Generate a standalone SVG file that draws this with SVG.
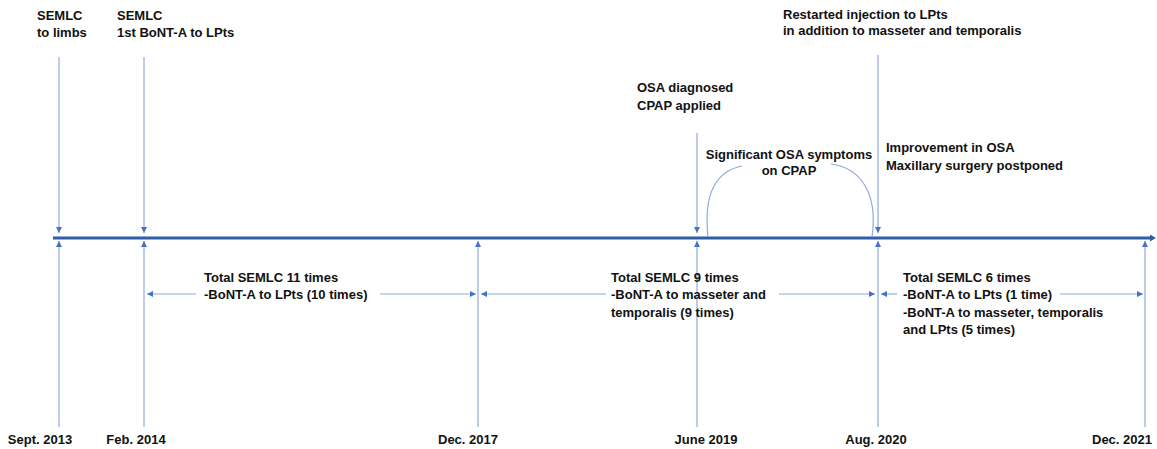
<svg xmlns="http://www.w3.org/2000/svg" width="1157" height="449" viewBox="0 0 1157 449">
  <style>
    text { font-family: "Liberation Sans", Arial, sans-serif; font-size: 13px; font-weight: bold; fill: #111; }
    .c { text-anchor: middle; }
    .thin { stroke: #8FAADC; stroke-width: 1.2; fill: none; }
    .arr { marker-end: url(#ah); }
    .both { marker-start: url(#ah); marker-end: url(#ah); }
    .main { stroke: #2F5DA8; stroke-width: 3; fill: none; }
  </style>
  <defs>
    <marker id="ah" viewBox="0 0 10 10" refX="10" refY="5" markerWidth="6" markerHeight="6" orient="auto-start-reverse" markerUnits="userSpaceOnUse">
      <path d="M0,0 L10,5 L0,10 z" fill="#4472C4"/>
    </marker>
    <marker id="mh" viewBox="0 0 6 7" refX="0" refY="3.5" markerWidth="6" markerHeight="7" orient="auto" markerUnits="userSpaceOnUse">
      <path d="M0,0 L6,3.5 L0,7 z" fill="#2F5DA8"/>
    </marker>
  </defs>

  <rect width="1157" height="449" fill="#ffffff"/>

  <g id="connectors">
    <!-- main timeline -->
    <line class="main" x1="53" y1="238" x2="1150" y2="238" marker-end="url(#mh)"/>
    <!-- downward event arrows -->
    <line class="thin arr" x1="59" y1="57" x2="59" y2="233"/>
    <line class="thin arr" x1="144" y1="57" x2="144" y2="233"/>
    <line class="thin arr" x1="697" y1="133" x2="697" y2="233"/>
    <line class="thin arr" x1="878" y1="55" x2="878" y2="233"/>
    <!-- upward date arrows -->
    <line class="thin arr" x1="59" y1="427" x2="59" y2="241"/>
    <line class="thin arr" x1="144" y1="427" x2="144" y2="241"/>
    <line class="thin arr" x1="478" y1="427" x2="478" y2="241"/>
    <line class="thin arr" x1="697" y1="427" x2="697" y2="241"/>
    <line class="thin arr" x1="878" y1="427" x2="878" y2="241"/>
    <line class="thin arr" x1="1145" y1="427" x2="1145" y2="241"/>
    <!-- period spans -->
    <line class="thin arr" x1="196" y1="294" x2="147" y2="294"/>
    <line class="thin arr" x1="380" y1="294" x2="476" y2="294"/>
    <line class="thin arr" x1="606" y1="294" x2="481" y2="294"/>
    <line class="thin arr" x1="779" y1="294" x2="875" y2="294"/>
    <line class="thin arr" x1="897" y1="294" x2="881" y2="294"/>
    <line class="thin arr" x1="1060" y1="294" x2="1143" y2="294"/>
    <!-- CPAP arcs -->
    <path class="thin" d="M708,237 C704,200 712,172 742,166"/>
    <path class="thin" d="M831,164 C862,168 878,195 872,237"/>
  </g>

  <g id="event-sept2013">
    <text x="37" y="19.5">SEMLC</text>
    <text x="37" y="37">to limbs</text>
  </g>
  <g id="event-feb2014">
    <text x="117" y="19.5">SEMLC</text>
    <text x="117" y="37">1st BoNT-A to LPts</text>
  </g>
  <g id="event-june2019">
    <text x="637" y="92">OSA diagnosed</text>
    <text x="637" y="109.5">CPAP applied</text>
  </g>
  <g id="event-cpap-symptoms">
    <text class="c" x="789" y="158.5">Significant OSA symptoms</text>
    <text class="c" x="789" y="174.5">on CPAP</text>
  </g>
  <g id="event-aug2020-restart">
    <text x="783" y="18.5">Restarted injection to LPts</text>
    <text x="783" y="35">in addition to masseter and temporalis</text>
  </g>
  <g id="event-aug2020-improvement">
    <text x="886" y="152">Improvement in OSA</text>
    <text x="886" y="169.5">Maxillary surgery postponed</text>
  </g>

  <g id="period-2014-2017">
    <text x="204" y="281.5">Total SEMLC 11 times</text>
    <text x="204" y="299">-BoNT-A to LPts (10 times)</text>
  </g>
  <g id="period-2017-2020">
    <text x="611" y="281.5">Total SEMLC 9 times</text>
    <text x="611" y="299">-BoNT-A to masseter and</text>
    <text x="611" y="316.5">temporalis (9 times)</text>
  </g>
  <g id="period-2020-2021">
    <text x="903" y="281.5">Total SEMLC 6 times</text>
    <text x="903" y="299">-BoNT-A to LPts (1 time)</text>
    <text x="903" y="316.5">-BoNT-A to masseter, temporalis</text>
    <text x="903" y="334">and LPts (5 times)</text>
  </g>

  <g id="dates">
    <text class="c" x="40" y="444">Sept. 2013</text>
    <text class="c" x="136" y="444">Feb. 2014</text>
    <text class="c" x="468" y="444">Dec. 2017</text>
    <text class="c" x="706" y="444">June 2019</text>
    <text class="c" x="876" y="444">Aug. 2020</text>
    <text class="c" x="1122" y="444">Dec. 2021</text>
  </g>
</svg>
